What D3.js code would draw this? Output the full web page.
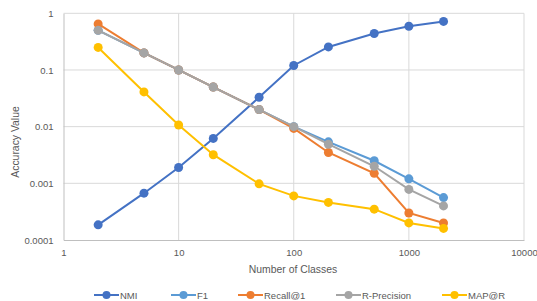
<!DOCTYPE html>
<html>
<head>
<meta charset="utf-8">
<script src="https://cdn.jsdelivr.net/npm/d3@7"></script>
<style>
  body { margin: 0; background: #fff; }
  svg text { font-family: "Liberation Sans", Arial, sans-serif; fill: #595959; }
</style>
</head>
<body>
<svg id="chart" width="537" height="301"></svg>
<script>
const classes = [2, 5, 10, 20, 50, 100, 200, 500, 1000, 2000]
const nmi = [0.000185, 0.00067, 0.0019, 0.0062, 0.033, 0.12, 0.255, 0.44, 0.59, 0.72]
const f1 = [0.5, 0.2, 0.1, 0.05, 0.02, 0.01, 0.0054, 0.0025, 0.0012, 0.00056]
const recall1 = [0.65, 0.2, 0.1, 0.05, 0.02, 0.0093, 0.0035, 0.0015, 0.0003, 0.0002]
const rPrecision = [0.5, 0.2, 0.1, 0.05, 0.02, 0.01, 0.0049, 0.002, 0.00078, 0.0004]
const mapAtR = [0.25, 0.041, 0.0107, 0.0032, 0.00098, 0.0006, 0.00046, 0.00035, 0.0002, 0.00016]
const xTicks = [1, 10, 100, 1000, 10000]
const yTicks = [0.0001, 0.001, 0.01, 0.1, 1]
const yTickLabels = ["0.0001", "0.001", "0.01", "0.1", "1"]

const series = [
  { name: "NMI", values: nmi, color: "#4472C4" },
  { name: "F1", values: f1, color: "#5B9BD5" },
  { name: "Recall@1", values: recall1, color: "#ED7D31" },
  { name: "R-Precision", values: rPrecision, color: "#A5A5A5" },
  { name: "MAP@R", values: mapAtR, color: "#FFC000" }
]

const svg = d3.select("#chart")
const plotLeft = 63.5, plotRight = 524, plotTop = 13.3, plotBottom = 240

const x = d3.scaleLog().domain([1, 10000]).range([plotLeft, plotRight])
const y = d3.scaleLog().domain([0.0001, 1]).range([plotBottom, plotTop])

// gridlines
svg.append("g")
  .selectAll("line")
  .data(yTicks.slice(1))
  .join("line")
  .attr("x1", plotLeft).attr("x2", plotRight)
  .attr("y1", (d) => y(d)).attr("y2", (d) => y(d))
  .attr("stroke", "#d9d9d9").attr("stroke-width", 1)

svg.append("g")
  .selectAll("line")
  .data(xTicks.slice(1))
  .join("line")
  .attr("x1", (d) => x(d)).attr("x2", (d) => x(d))
  .attr("y1", plotTop).attr("y2", plotBottom)
  .attr("stroke", "#d9d9d9").attr("stroke-width", 1)

// axes
const xAxis = svg.append("g")
  .attr("transform", `translate(0,${plotBottom})`)
  .call(d3.axisBottom(x).tickValues(xTicks).tickFormat(d3.format("d")).tickSize(0).tickPadding(9))
xAxis.select(".domain").attr("stroke", "#bfbfbf")
xAxis.selectAll("text").attr("font-size", 9.5).style("fill", "#595959")

const yAxis = svg.append("g")
  .attr("transform", `translate(${plotLeft},0)`)
  .call(d3.axisLeft(y).tickValues(yTicks).tickFormat((d, i) => yTickLabels[i]).tickSize(0).tickPadding(10))
yAxis.select(".domain").attr("stroke", "#bfbfbf")
yAxis.selectAll("text").attr("font-size", 9.5).style("fill", "#595959")

// titles
svg.append("text")
  .attr("x", 293).attr("y", 273)
  .attr("text-anchor", "middle").attr("font-size", 10.4)
  .text("Number of Classes")

svg.append("text")
  .attr("transform", "translate(19,142) rotate(-90)")
  .attr("text-anchor", "middle").attr("font-size", 10.4)
  .text("Accuracy Value")

// series
const line = d3.line()
  .x((d, i) => x(classes[i]))
  .y((d) => y(d))

series.forEach((s) => {
  const g = svg.append("g")
  g.append("path")
    .attr("d", line(s.values))
    .attr("fill", "none")
    .attr("stroke", s.color)
    .attr("stroke-width", 2)
  g.selectAll("circle")
    .data(s.values)
    .join("circle")
    .attr("cx", (d, i) => x(classes[i]))
    .attr("cy", (d) => y(d))
    .attr("r", 4.5)
    .attr("fill", s.color)
})

// legend
const legendX = [94, 171, 238, 336, 442]
const legend = svg.append("g").attr("transform", "translate(0,295)")
series.forEach((s, i) => {
  const g = legend.append("g").attr("transform", `translate(${legendX[i]},0)`)
  g.append("line").attr("x1", 0).attr("x2", 25).attr("stroke", s.color).attr("stroke-width", 2)
  g.append("circle").attr("cx", 12.5).attr("r", 4).attr("fill", s.color)
  g.append("text").attr("x", 26).attr("y", 3.5).attr("font-size", 9.5).text(s.name)
})
</script>
</body>
</html>
